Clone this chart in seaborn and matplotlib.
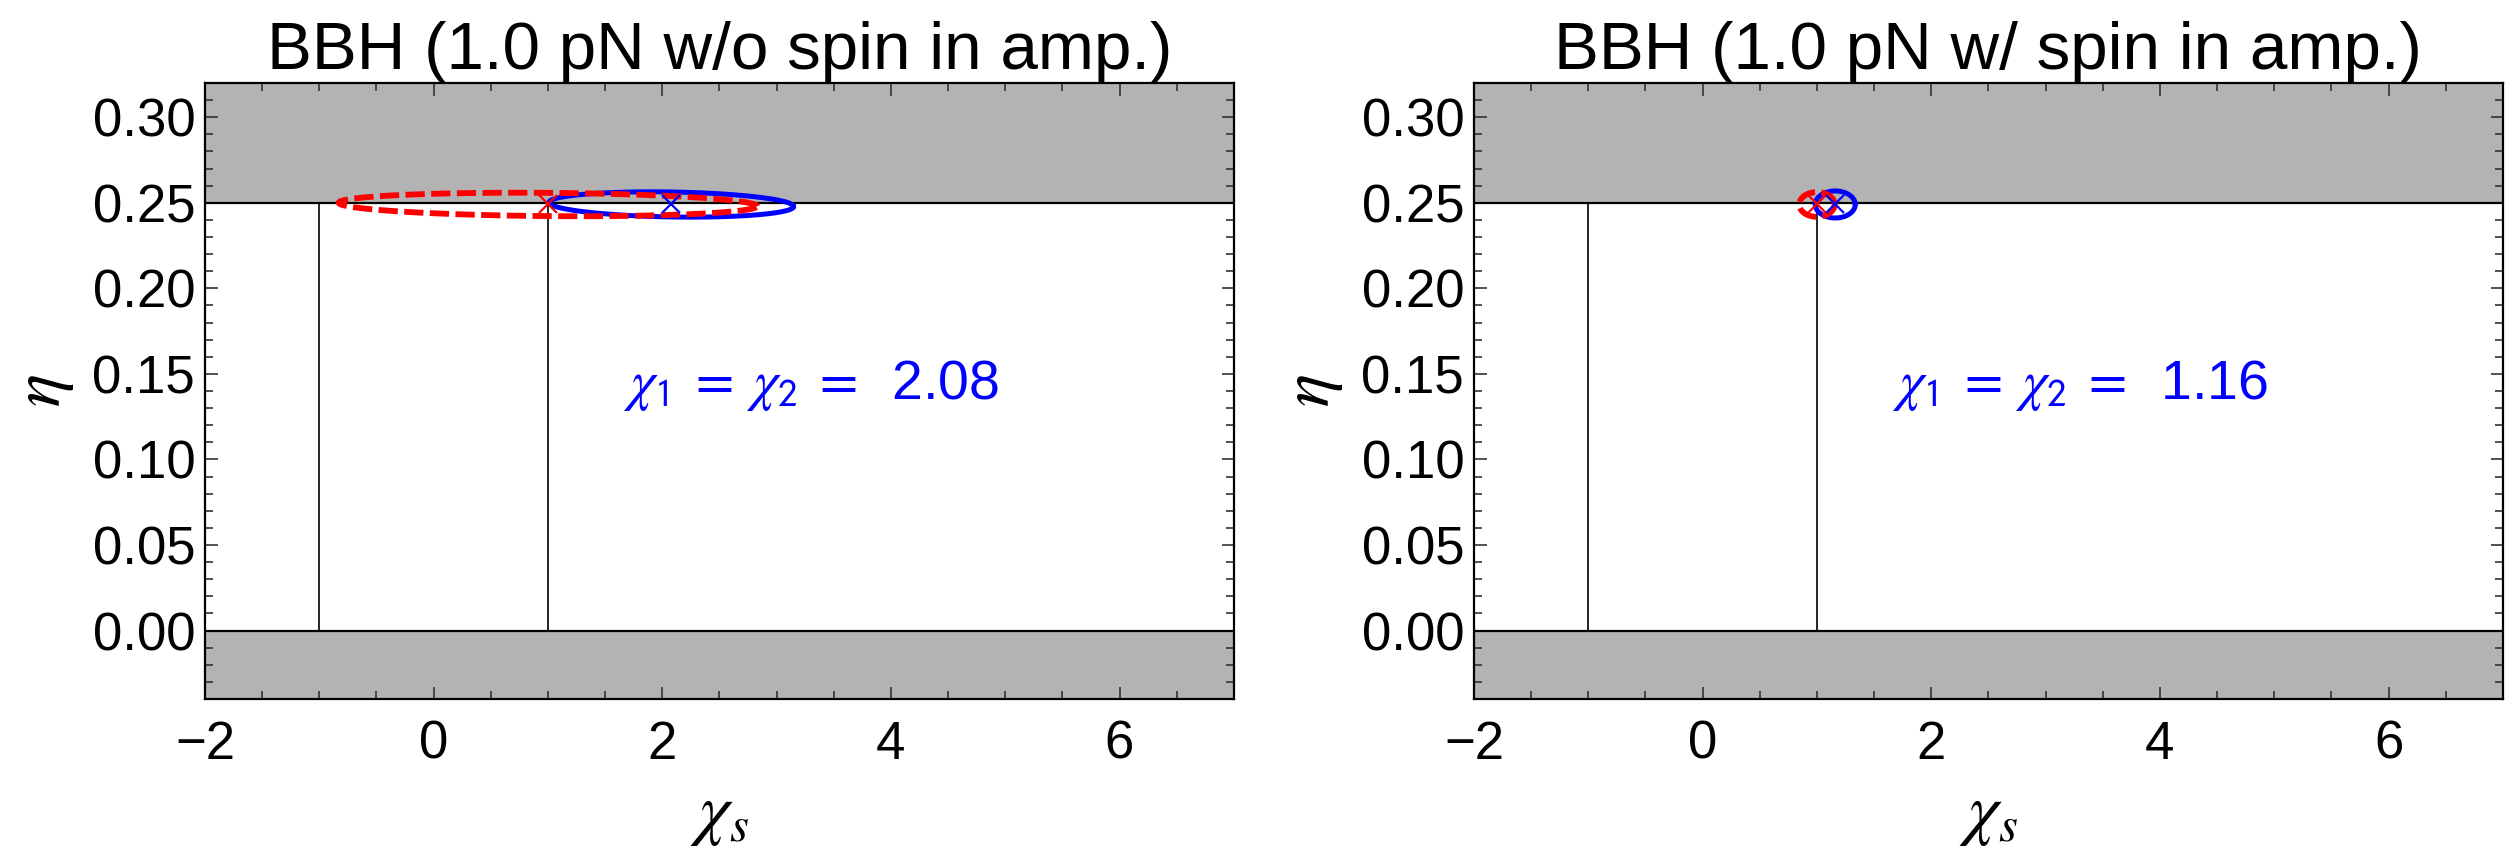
import numpy as np
import pandas as pd
import matplotlib
matplotlib.use('Agg')
import matplotlib.pyplot as plt
import seaborn as sns
from matplotlib.ticker import MultipleLocator, FormatStrFormatter

# Panel titles and annotation values
titles = ['BBH (1.0 pN w/o spin in amp.)', 'BBH (1.0 pN w/ spin in amp.)']
chi_values = ['2.08', '1.16']

# Error ellipses: centre (chi_s, eta), half-widths and a small tilt in eta
red_center = [(1.0, 0.2490), (1.0, 0.2490)]
red_half = [(1.83, 0.0068), (0.155, 0.0072)]
red_tilt = [-0.0010, 0.0]
blue_center = [(2.08, 0.2490), (1.16, 0.2490)]
blue_half = [(1.07, 0.0073), (0.175, 0.0079)]
blue_tilt = [-0.0012, 0.0]

# Physical boundaries and plot ranges
eta_max = 0.25
eta_min = 0.0
chi_bounds = [-1.0, 1.0]
xlim = (-2, 7)
ylim = (-0.04, 0.32)

GRAY = '#b3b3b3'


def ellipse_df(center, half, tilt, n=400):
    t = np.linspace(0, 2 * np.pi, n)
    return pd.DataFrame({
        'chi': center[0] + half[0] * np.cos(t),
        'eta': center[1] + half[1] * np.sin(t) + tilt * np.cos(t),
    })


sns.set_theme(style='ticks')
plt.rcParams['font.family'] = ['Liberation Sans', 'DejaVu Sans']
plt.rcParams['mathtext.fontset'] = 'stix'
plt.rcParams['text.color'] = 'black'
plt.rcParams['axes.labelcolor'] = 'black'
plt.rcParams['xtick.labelcolor'] = 'black'
plt.rcParams['ytick.labelcolor'] = 'black'

fig = plt.figure(figsize=(25.17, 8.51), dpi=100)
axs = [fig.add_axes([0.0814, 0.1786, 0.4088, 0.7239]),
       fig.add_axes([0.5856, 0.1786, 0.4088, 0.7239])]

for i, ax in enumerate(axs):
    # excluded regions
    ax.axhspan(eta_max, ylim[1], color=GRAY, lw=0, zorder=0)
    ax.axhspan(ylim[0], eta_min, color=GRAY, lw=0, zorder=0)
    ax.axhline(eta_max, color='black', lw=1.6, zorder=1)
    ax.axhline(eta_min, color='black', lw=1.6, zorder=1)
    ax.vlines(chi_bounds, eta_min, eta_max, color='black', lw=1.2, zorder=1)

    # ellipses
    red = ellipse_df(red_center[i], red_half[i], red_tilt[i])
    blue = ellipse_df(blue_center[i], blue_half[i], blue_tilt[i])
    sns.lineplot(data=blue, x='chi', y='eta', sort=False, estimator=None,
                 errorbar=None, ax=ax, color='#0000ff', lw=3.6, zorder=3)
    sns.lineplot(data=red, x='chi', y='eta', sort=False, estimator=None,
                 errorbar=None, ax=ax, color='#ff0000', lw=4.2, zorder=4)
    ax.lines[-1].set_dashes([3.3, 1.1])

    # true-value markers
    ax.plot(*red_center[i], marker='x', color='#ff0000', ms=13, mew=1.6, zorder=5)
    ax.plot(*blue_center[i], marker='x', color='#0000ff', ms=13, mew=1.6, zorder=5)

    ax.text(3.3, 0.143,
            r'$\chi_{\mathsf{1}}\;=\;\chi_{\mathsf{2}}\;=\;$ ' + chi_values[i],
            color='#0000ff', fontsize=40, ha='center', va='center')

    ax.set_xlim(*xlim)
    ax.set_ylim(*ylim)
    ax.xaxis.set_major_locator(MultipleLocator(2))
    ax.xaxis.set_minor_locator(MultipleLocator(0.5))
    ax.yaxis.set_major_locator(MultipleLocator(0.05))
    ax.yaxis.set_minor_locator(MultipleLocator(0.01))
    ax.yaxis.set_major_formatter(FormatStrFormatter('%.2f'))
    ax.tick_params(which='both', direction='in', top=True, right=True,
                   color='#333333', width=1.2)
    ax.tick_params(which='major', length=9, labelsize=38)
    ax.tick_params(which='minor', length=5.5)
    ax.tick_params(axis='x', which='major', pad=15)
    ax.tick_params(axis='y', which='major', pad=7)
    for s in ax.spines.values():
        s.set_linewidth(1.6)
        s.set_color('black')

    ax.set_xlabel(r'$\chi_s$', fontsize=50, labelpad=10)
    ax.set_ylabel(r'$\eta$', fontsize=50, labelpad=12)
    ax.set_title(titles[i], fontsize=48.5, pad=5)

fig.savefig('out.png', dpi=100)
